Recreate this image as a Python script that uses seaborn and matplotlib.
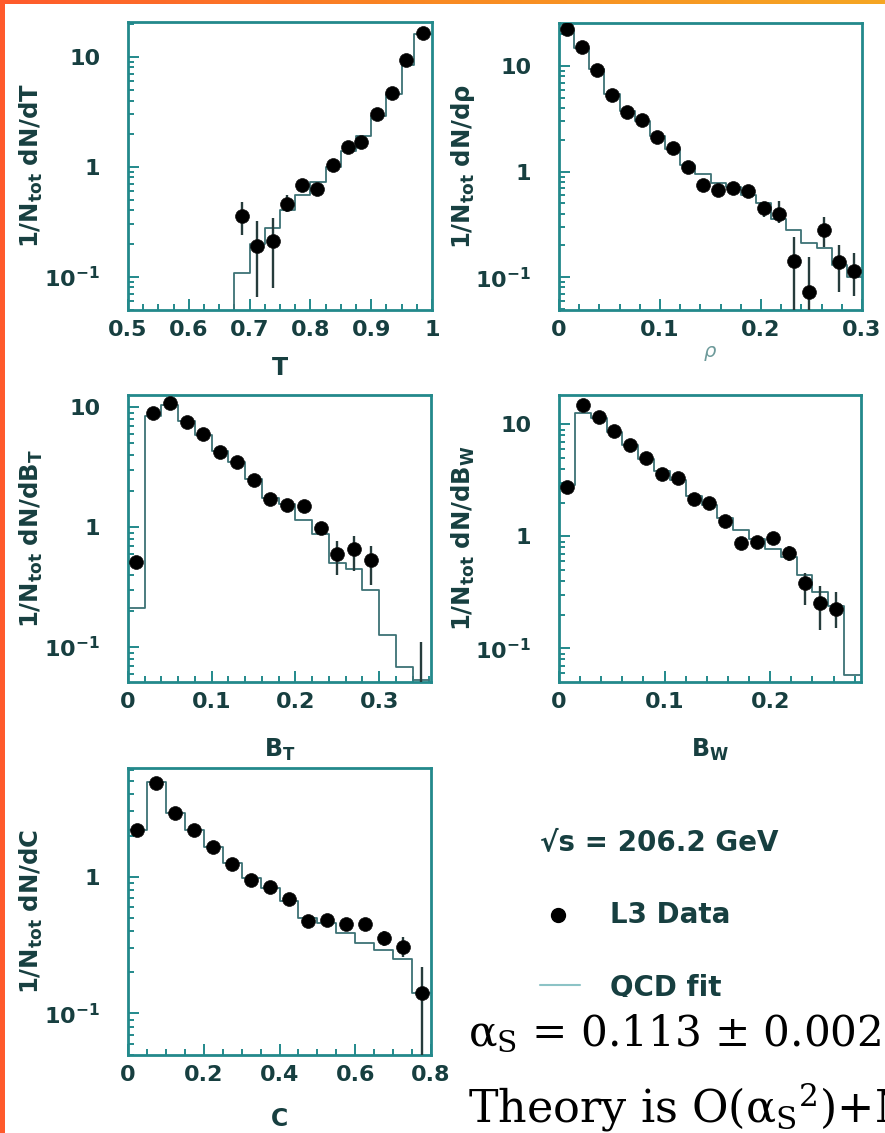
import numpy as np
import pandas as pd
import matplotlib
matplotlib.use("Agg")
import matplotlib.pyplot as plt
import seaborn as sns
from matplotlib.ticker import MultipleLocator, LogLocator, NullFormatter, FuncFormatter
from matplotlib.patches import Rectangle
from matplotlib.lines import Line2D
from matplotlib.colors import LinearSegmentedColormap

# ---------------- data ----------------
# Thrust T
t_x = [0.687, 0.712, 0.738, 0.761, 0.786, 0.811, 0.837, 0.862, 0.884, 0.910, 0.935, 0.958, 0.985]
t_y = [0.36, 0.19, 0.21, 0.46, 0.68, 0.63, 1.04, 1.52, 1.69, 2.99, 4.7, 9.3, 16.3]
t_lo = [0.24, 0.066, 0.079, 0.39, 0.62, 0.57, 0.98, 1.42, 1.58, 2.85, 4.5, 8.9, 15.6]
t_hi = [0.48, 0.32, 0.34, 0.55, 0.75, 0.69, 1.10, 1.62, 1.80, 3.13, 4.9, 9.7, 17.0]
t_edges = [0.65, 0.675, 0.70, 0.725, 0.75, 0.775, 0.80, 0.825, 0.85, 0.875, 0.90, 0.925, 0.95, 0.97, 1.0]
t_fit = [0.01, 0.107, 0.20, 0.28, 0.40, 0.55, 0.72, 1.0, 1.4, 1.9, 2.9, 4.6, 8.5, 16.0]

# Heavy jet mass rho
r_x = [0.0075, 0.0225, 0.0375, 0.0525, 0.0675, 0.0825, 0.0975, 0.1125, 0.1275, 0.1425,
       0.1575, 0.1725, 0.1875, 0.2025, 0.2175, 0.2325, 0.2475, 0.2625, 0.2775, 0.2925]
r_y = [22.5, 15.3, 9.2, 5.3, 3.7, 3.1, 2.15, 1.69, 1.11, 0.75,
       0.67, 0.70, 0.66, 0.45, 0.40, 0.142, 0.072, 0.28, 0.138, 0.115]
r_lo = [21.8, 14.8, 8.9, 5.1, 3.55, 2.95, 2.05, 1.6, 1.04, 0.66,
        0.59, 0.62, 0.58, 0.37, 0.33, 0.01, 0.01, 0.195, 0.073, 0.066]
r_hi = [23.2, 15.8, 9.5, 5.5, 3.85, 3.25, 2.25, 1.78, 1.18, 0.84,
        0.76, 0.79, 0.74, 0.52, 0.53, 0.242, 0.156, 0.374, 0.20, 0.17]
r_edges = [0.0, 0.015, 0.03, 0.045, 0.06, 0.075, 0.09, 0.105, 0.12, 0.135, 0.15,
           0.165, 0.18, 0.195, 0.21, 0.225, 0.24, 0.255, 0.27, 0.285, 0.30]
r_fit = [22.0, 15.0, 9.5, 5.5, 3.8, 3.0, 2.2, 1.65, 1.15, 0.95,
         0.78, 0.72, 0.60, 0.50, 0.36, 0.28, 0.21, 0.19, 0.13, 0.10]

# Total jet broadening B_T
b_x = [0.01, 0.03, 0.05, 0.07, 0.09, 0.11, 0.13, 0.15, 0.17, 0.19, 0.21, 0.23, 0.25, 0.27, 0.29, 0.35]
b_y = [0.51, 8.9, 10.8, 7.5, 5.96, 4.22, 3.48, 2.48, 1.72, 1.53, 1.49, 0.98, 0.60, 0.66, 0.53, 0.02]
b_lo = [0.48, 8.6, 10.4, 7.2, 5.75, 4.05, 3.33, 2.36, 1.62, 1.44, 1.40, 0.90, 0.40, 0.43, 0.33, 0.01]
b_hi = [0.54, 9.2, 11.2, 7.8, 6.2, 4.4, 3.63, 2.6, 1.82, 1.62, 1.58, 1.06, 0.76, 0.84, 0.69, 0.11]
b_edges = [0.0, 0.02, 0.04, 0.06, 0.08, 0.10, 0.12, 0.14, 0.16, 0.18, 0.20,
           0.22, 0.24, 0.26, 0.28, 0.30, 0.32, 0.34, 0.36]
b_fit = [0.21, 8.5, 10.5, 7.6, 5.9, 4.3, 3.5, 2.5, 1.75, 1.55, 1.15,
         0.88, 0.50, 0.45, 0.30, 0.127, 0.068, 0.053]

# Wide jet broadening B_W
w_x = [0.0075, 0.0225, 0.0375, 0.0525, 0.0675, 0.0825, 0.0975, 0.1125, 0.1275,
       0.1425, 0.1575, 0.1725, 0.1875, 0.2025, 0.2175, 0.2325, 0.2475, 0.2625]
w_y = [2.75, 14.8, 11.6, 8.8, 6.5, 5.0, 3.61, 3.33, 2.18,
       1.99, 1.37, 0.875, 0.89, 0.96, 0.71, 0.385, 0.255, 0.227]
w_lo = [2.62, 14.3, 11.2, 8.5, 6.25, 4.8, 3.45, 3.18, 2.06,
        1.88, 1.28, 0.78, 0.80, 0.86, 0.60, 0.246, 0.147, 0.152]
w_hi = [2.88, 15.3, 12.0, 9.1, 6.75, 5.2, 3.77, 3.48, 2.30,
        2.10, 1.46, 0.97, 0.98, 1.06, 0.82, 0.47, 0.36, 0.32]
w_edges = [0.0, 0.015, 0.03, 0.045, 0.06, 0.075, 0.09, 0.105, 0.12, 0.135,
           0.15, 0.165, 0.18, 0.195, 0.21, 0.225, 0.24, 0.255, 0.27, 0.285]
w_fit = [2.9, 12.7, 11.5, 8.6, 6.6, 4.9, 3.8, 3.2, 2.3,
         1.9, 1.45, 1.15, 0.95, 0.78, 0.66, 0.45, 0.32, 0.24, 0.058]

# C-parameter
c_x = [0.025, 0.075, 0.125, 0.175, 0.225, 0.275, 0.325, 0.375,
       0.425, 0.475, 0.525, 0.575, 0.625, 0.675, 0.725, 0.775]
c_y = [2.2, 4.87, 2.91, 2.2, 1.64, 1.24, 0.946, 0.846,
       0.683, 0.474, 0.482, 0.45, 0.45, 0.354, 0.307, 0.142]
c_lo = [2.12, 4.7, 2.8, 2.1, 1.57, 1.18, 0.90, 0.80,
        0.64, 0.44, 0.45, 0.41, 0.41, 0.31, 0.26, 0.01]
c_hi = [2.28, 5.05, 3.02, 2.3, 1.71, 1.30, 0.99, 0.89,
        0.73, 0.51, 0.52, 0.49, 0.49, 0.40, 0.36, 0.22]
c_edges = [0.0, 0.05, 0.10, 0.15, 0.20, 0.25, 0.30, 0.35, 0.40,
           0.45, 0.50, 0.55, 0.60, 0.65, 0.70, 0.75, 0.80]
c_fit = [2.2, 4.9, 2.9, 2.2, 1.65, 1.25, 0.97, 0.83,
         0.66, 0.50, 0.46, 0.385, 0.33, 0.29, 0.25, 0.14]

ytick_vals = [0.1, 1, 10]
ytick_text = [r'$\mathbf{10^{-1}}$', '1', '10']

legend_energy = "√s = 206.2 GeV"
legend_data = "L3 Data"
legend_fit = "QCD fit"
alpha_text = r'α$_{\rm S}$ = 0.113 ± 0.002'
theory_text = r'Theory is O(α$_{\rm S}{}^{2}$)+NLLA'

# ---------------- style ----------------
sns.set_theme(style="white")
plt.rcParams['font.family'] = ['DejaVu Sans']
plt.rcParams['mathtext.fontset'] = 'dejavusans'

TEAL = '#23898b'
TXT = '#173f40'
FIT = '#3d7275'
ERR = '#263c3c'

W, H = 885, 1133
fig = plt.figure(figsize=(W / 100, H / 100), dpi=100)
fig.patch.set_facecolor('white')


def frac(l, t, r, b):
    return [l / W, 1 - b / H, (r - l) / W, (b - t) / H]


def panel(rect, xs, ys, lo, hi, edges, fit, xlim, ylim, xmaj, xmin,
          xlabel, ylabel, xlab_y, ylab_x, xlab_kw=None):
    ax = fig.add_axes(rect)
    ax.set_yscale('log')
    ax.set_xlim(*xlim)
    ax.set_ylim(*ylim)
    fit_df = pd.DataFrame({'x': edges, 'y': list(fit) + [fit[-1]]})
    sns.lineplot(data=fit_df, x='x', y='y', drawstyle='steps-post', color=FIT,
                 lw=1.3, ax=ax, estimator=None, sort=False, legend=False, zorder=2)
    ys = np.array(ys, float)
    ax.errorbar(xs, ys, yerr=[ys - np.array(lo), np.array(hi) - ys], fmt='none',
                ecolor=ERR, elinewidth=1.7, capsize=0, zorder=3)
    pts = pd.DataFrame({'x': xs, 'y': ys})
    sns.scatterplot(data=pts, x='x', y='y', s=100, color='black', edgecolor='#111',
                    linewidth=0.5, ax=ax, zorder=4, legend=False)
    ax.set_xlim(*xlim)
    ax.set_ylim(*ylim)
    ax.xaxis.set_major_locator(MultipleLocator(xmaj))
    ax.xaxis.set_minor_locator(MultipleLocator(xmin))
    ax.xaxis.set_major_formatter(FuncFormatter(lambda v, p: f'{v:g}'))
    ax.set_yticks(ytick_vals, labels=ytick_text)
    ax.yaxis.set_minor_locator(LogLocator(base=10, subs=np.arange(2, 10)))
    ax.yaxis.set_minor_formatter(NullFormatter())
    ax.set_ylim(*ylim)
    ax.tick_params(which='both', direction='in', top=False, right=False,
                   bottom=True, left=True, color=TEAL, labelcolor=TXT, width=1.4)
    ax.tick_params(which='major', length=8, labelsize=16)
    ax.tick_params(which='minor', length=4.5)
    ax.tick_params(axis='x', pad=7)
    ax.tick_params(axis='y', pad=20)
    for lab in ax.get_xticklabels() + ax.get_yticklabels():
        lab.set_fontweight('bold')
    for sp in ax.spines.values():
        sp.set_color(TEAL)
        sp.set_linewidth(2.0)
        sp.set_visible(True)
    kw = dict(fontsize=17, fontweight='bold', color=TXT)
    if xlab_kw:
        kw.update(xlab_kw)
    ax.set_xlabel(xlabel, **kw)
    ax.xaxis.set_label_coords(0.5, xlab_y)
    ax.set_ylabel(ylabel, fontsize=17.5, color=TXT)
    ax.yaxis.set_label_coords(ylab_x, 0.5)
    ax.grid(False)
    ax.set_facecolor('white')
    return ax


panel(frac(128, 22, 432, 310), t_x, t_y, t_lo, t_hi, t_edges, t_fit,
      (0.5, 1.0), (0.0498, 20.7), 0.1, 0.025, 'T',
      r'$\mathbf{1/N_{tot}\ dN/dT}$', -0.16, -0.273)
panel(frac(559, 23, 862, 310), r_x, r_y, r_lo, r_hi, r_edges, r_fit,
      (0.0, 0.30), (0.0489, 25.7), 0.1, 0.02, r'$\rho$',
      r'$\mathbf{1/N_{tot}\ dN/d\rho}$', -0.12, -0.27,
      xlab_kw=dict(fontsize=14, color='#6d9a9a', fontweight='normal'))
panel(frac(128, 395, 431, 682), b_x, b_y, b_lo, b_hi, b_edges, b_fit,
      (0.0, 0.362), (0.0511, 12.6), 0.1, 0.02, r'$\mathbf{B_T}$',
      r'$\mathbf{1/N_{tot}\ dN/dB_T}$', -0.19, -0.273)
panel(frac(559, 395, 861, 682), w_x, w_y, w_lo, w_hi, w_edges, w_fit,
      (0.0, 0.286), (0.0502, 18.3), 0.1, 0.02, r'$\mathbf{B_W}$',
      r'$\mathbf{1/N_{tot}\ dN/dB_W}$', -0.19, -0.27)
panel(frac(128, 768, 431, 1055), c_x, c_y, c_lo, c_hi, c_edges, c_fit,
      (0.0, 0.8), (0.0496, 6.24), 0.2, 0.05, 'C',
      r'$\mathbf{1/N_{tot}\ dN/dC}$', -0.18, -0.273)

# ---------------- legend block ----------------
fig.text(540 / W, 1 - 843 / H, legend_energy, fontsize=20, fontweight='bold',
         color=TXT, va='center', ha='left')
fig.add_artist(Line2D([558 / W], [1 - 915 / H], marker='o', markersize=10,
                      color='black', transform=fig.transFigure))
fig.text(610 / W, 1 - 915 / H, legend_data, fontsize=20, fontweight='bold',
         color=TXT, va='center', ha='left')
fig.add_artist(Line2D([540 / W, 580 / W], [1 - 985 / H, 1 - 985 / H], lw=1.5,
                      color='#8cc3c6', transform=fig.transFigure))
fig.text(610 / W, 1 - 988 / H, legend_fit, fontsize=20, fontweight='bold',
         color=TXT, va='center', ha='left', zorder=3)
fig.add_artist(Rectangle((455 / W, 0), 1 - 455 / W, 1 - 997 / H,
                         transform=fig.transFigure, facecolor='white',
                         edgecolor='none', zorder=4))

fig.text(468 / W, 1 - 1045 / H, alpha_text, fontsize=30.3, family='DejaVu Serif',
         math_fontfamily='dejavuserif', color='black', va='baseline', ha='left', zorder=5)
fig.text(468 / W, 1 - 1122 / H, theory_text, fontsize=32, family='DejaVu Serif',
         math_fontfamily='dejavuserif', color='black', va='baseline', ha='left', zorder=5)

# ---------------- orange frame ----------------
cmap = LinearSegmentedColormap.from_list('frame', ['#ff5a2c', '#f98a22', '#f5a623'])
top = fig.add_axes([0, 1 - 4 / H, 1, 4 / H])
top.imshow(np.linspace(0, 1, 256)[None, :], aspect='auto', cmap=cmap)
top.set_axis_off()
left = fig.add_axes([0, 0, 5 / W, 1])
left.imshow(np.full((2, 2), 0.0), aspect='auto', cmap=cmap, vmin=0, vmax=1)
left.set_axis_off()

fig.savefig('out.png', dpi=100)
